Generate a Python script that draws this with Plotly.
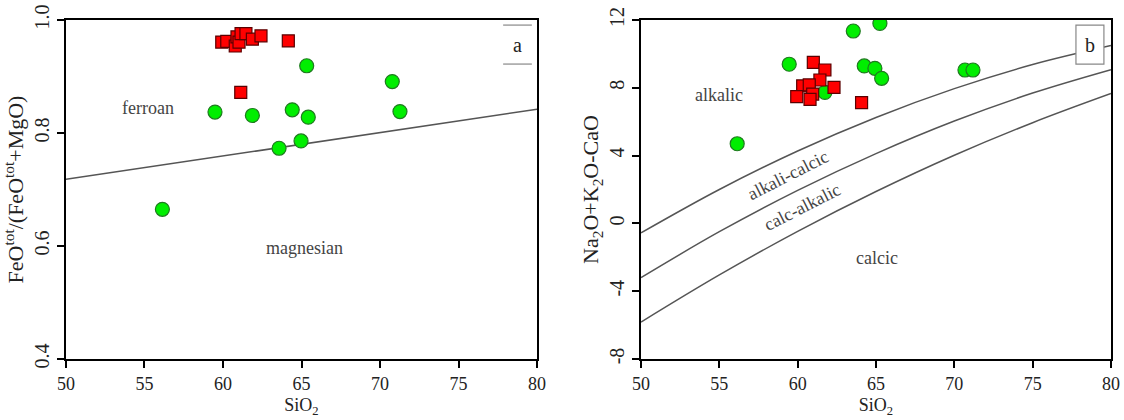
import plotly.graph_objects as go

# ---- panel (a): FeOtot/(FeOtot+MgO) vs SiO2 ----
a_red_sio2 = [59.92, 60.24, 60.78, 60.89, 61.02, 61.15, 61.46, 61.87, 62.42, 64.16, 61.13]
a_red_fe = [0.961, 0.962, 0.954, 0.970, 0.961, 0.976, 0.976, 0.966, 0.972, 0.963, 0.872]
a_green_sio2 = [65.33, 70.78, 59.49, 61.87, 64.41, 65.43, 71.27, 63.57, 64.97, 56.14]
a_green_fe = [0.919, 0.891, 0.837, 0.831, 0.841, 0.828, 0.838, 0.773, 0.786, 0.665]
fe_line_sio2 = [50, 80]
fe_line_val = [0.718, 0.842]

# ---- panel (b): MALI (Na2O+K2O-CaO) vs SiO2 ----
b_red_sio2 = [61.00, 61.74, 61.42, 62.32, 60.32, 60.74, 60.96, 59.94, 60.79, 64.08]
b_red_mali = [9.50, 9.05, 8.46, 8.03, 8.11, 8.17, 7.63, 7.48, 7.32, 7.12]
b_green_sio2 = [63.55, 65.25, 59.46, 64.25, 64.93, 65.36, 61.74, 70.68, 71.19, 56.14]
b_green_mali = [11.35, 11.80, 9.39, 9.29, 9.15, 8.56, 7.73, 9.05, 9.05, 4.70]

bound_sio2 = [50, 55, 60, 65, 70, 75, 80]
alkalic_alkcalcic = [-0.56, 2.00, 4.27, 6.25, 7.95, 9.37, 10.49]
alkcalcic_calcalk = [-3.20, -0.49, 1.95, 4.12, 6.04, 7.69, 9.07]
calcalk_calcic = [-5.82, -3.04, -0.47, 1.88, 4.02, 5.94, 7.66]

# tick labels (hyphen-minus as printed)
a_ytick_vals = [0.4, 0.6, 0.8, 1.0]
a_ytick_text = ["0.4", "0.6", "0.8", "1.0"]
b_ytick_vals = [-8, -4, 0, 4, 8, 12]
b_ytick_text = ["-8", "-4", "0", "4", "8", "12"]

FONT = "Liberation Serif, Times New Roman, serif"
LINE = "#555555"
RED = "#ff0000"
RED_EDGE = "#5a0000"
GREEN = "#00ee00"
GREEN_EDGE = "#1f7a1f"

fig = go.Figure()

# panel (a)
fig.add_trace(go.Scatter(x=fe_line_sio2, y=fe_line_val, mode="lines",
                         line=dict(color=LINE, width=1.5), xaxis="x", yaxis="y",
                         hoverinfo="skip"))
fig.add_trace(go.Scatter(x=a_green_sio2, y=a_green_fe, mode="markers",
                         marker=dict(symbol="circle", size=14, color=GREEN,
                                     line=dict(color=GREEN_EDGE, width=1.2)),
                         xaxis="x", yaxis="y"))
fig.add_trace(go.Scatter(x=a_red_sio2, y=a_red_fe, mode="markers",
                         marker=dict(symbol="square", size=12, color=RED,
                                     line=dict(color=RED_EDGE, width=1.2)),
                         xaxis="x", yaxis="y"))

# panel (b)
for ys in (alkalic_alkcalcic, alkcalcic_calcalk, calcalk_calcic):
    fig.add_trace(go.Scatter(x=bound_sio2, y=ys, mode="lines",
                             line=dict(color=LINE, width=1.5, shape="spline"),
                             xaxis="x2", yaxis="y2", hoverinfo="skip"))
fig.add_trace(go.Scatter(x=b_green_sio2, y=b_green_mali, mode="markers",
                         marker=dict(symbol="circle", size=14, color=GREEN,
                                     line=dict(color=GREEN_EDGE, width=1.2)),
                         xaxis="x2", yaxis="y2"))
fig.add_trace(go.Scatter(x=b_red_sio2, y=b_red_mali, mode="markers",
                         marker=dict(symbol="square", size=12, color=RED,
                                     line=dict(color=RED_EDGE, width=1.2)),
                         xaxis="x2", yaxis="y2"))

axis_common = dict(showline=True, linecolor="black", linewidth=1.8, mirror=True,
                   ticks="outside", ticklen=7, tickcolor="black", tickwidth=1.8,
                   showgrid=False, zeroline=False, automargin=False)
xtick_font = dict(family=FONT, size=18, color="#222")
ytick_font = dict(family=FONT, size=20, color="#222")
xtitle_font = dict(family=FONT, size=18, color="#222")
ytitle_font = dict(family=FONT, size=22, color="#222")

fig.update_layout(
    width=1124, height=420,
    margin=dict(l=0, r=0, t=0, b=0),
    paper_bgcolor="white", plot_bgcolor="white",
    showlegend=False,
    font=dict(family=FONT, size=18, color="#222"),
    xaxis=dict(domain=[0.0587, 0.4778], range=[50, 80], dtick=5, anchor="y",
               tickfont=xtick_font,
               title=dict(text="SiO<sub>2</sub>", standoff=6, font=xtitle_font),
               **axis_common),
    yaxis=dict(domain=[0.1452, 0.9524], range=[0.4, 1.0], tickmode="array",
               tickvals=a_ytick_vals, ticktext=a_ytick_text, tickangle=-90, anchor="x",
               tickfont=ytick_font,
               title=dict(text="FeO<sup>tot</sup>/(FeO<sup>tot</sup>+MgO)", standoff=1,
                          font=ytitle_font),
               **axis_common),
    xaxis2=dict(domain=[0.5703, 0.9884], range=[50, 80], dtick=5, anchor="y2",
                tickfont=xtick_font,
                title=dict(text="SiO<sub>2</sub>", standoff=6, font=xtitle_font),
                **axis_common),
    yaxis2=dict(domain=[0.1452, 0.9524], range=[-8, 12], tickmode="array",
                tickvals=b_ytick_vals, ticktext=b_ytick_text, tickangle=-90, anchor="x2",
                tickfont=ytick_font,
                title=dict(text="Na<sub>2</sub>O+K<sub>2</sub>O-CaO", standoff=0,
                           font=ytitle_font),
                **axis_common),
)

label_font = dict(family=FONT, size=18, color="#444")
tag_font = dict(family=FONT, size=20, color="#222")
annotations = [
    dict(x=55.2, y=0.844, xref="x", yref="y", text="ferroan", showarrow=False, font=label_font),
    dict(x=65.2, y=0.596, xref="x", yref="y", text="magnesian", showarrow=False, font=label_font),
    dict(x=55.0, y=7.56, xref="x2", yref="y2", text="alkalic", showarrow=False, font=label_font),
    dict(x=59.4, y=2.86, xref="x2", yref="y2", text="alkali-calcic", showarrow=False,
         textangle=-27, font=label_font),
    dict(x=60.3, y=0.95, xref="x2", yref="y2", text="calc-alkalic", showarrow=False,
         textangle=-27, font=label_font),
    dict(x=65.04, y=-2.06, xref="x2", yref="y2", text="calcic", showarrow=False, font=label_font),
    # panel letters
    dict(x=0.9585, y=0.9275, xref="x domain", yref="y domain", text="a", showarrow=False,
         xanchor="center", yanchor="middle", font=tag_font),
    dict(x=0.9553, y=0.9275, xref="x2 domain", yref="y2 domain", text="b", showarrow=False,
         xanchor="center", yanchor="middle", font=tag_font),
]
fig.update_layout(annotations=annotations)

shapes = [
    # frame lines around the "a" tag (top and bottom only)
    dict(type="line", xref="x domain", yref="y domain", x0=0.928, x1=0.989, y0=0.985, y1=0.985,
         line=dict(color="#888", width=1.2)),
    dict(type="line", xref="x domain", yref="y domain", x0=0.928, x1=0.989, y0=0.870, y1=0.870,
         line=dict(color="#888", width=1.2)),
    # white boxed "b" tag
    dict(type="rect", xref="x2 domain", yref="y2 domain", x0=0.9255, x1=0.985, y0=0.870, y1=0.985,
         line=dict(color="#888", width=1.2), fillcolor="white", layer="above"),
]
fig.update_layout(shapes=shapes)

fig.write_html("out.html")
